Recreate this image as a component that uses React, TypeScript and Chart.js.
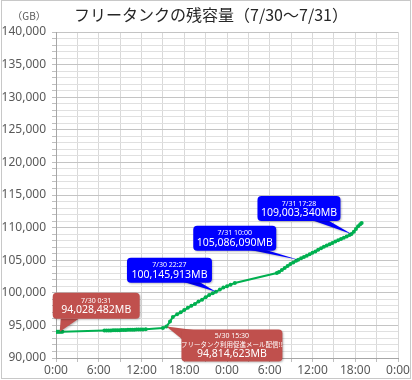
import React, { useEffect, useRef } from "react";
import { Chart, registerables } from "chart.js";

Chart.register(...registerables);

// elapsed hours from 7/30 0:00
const hours = [
  0.0, 0.17, 0.33, 0.52, 0.7, 0.9,
  6.8, 7.1, 7.4, 7.7, 8.0, 8.3, 8.6, 8.9, 9.2, 9.5, 9.8, 10.1, 10.4, 10.7, 11.0, 11.3, 11.6, 11.9, 12.2, 12.6,
  15.0, 15.5, 16.0, 16.4, 17.0, 17.5, 18.0, 18.5, 19.0, 19.5, 20.0, 20.5, 21.0, 21.5, 22.0, 22.45, 23.0, 23.5, 24.0, 24.5, 25.1,
  31.0, 31.3, 31.7, 32.1, 32.5, 32.9, 33.3, 33.7, 34.0, 34.4, 34.8, 35.2, 35.6, 36.0, 36.4, 36.8, 37.2, 37.6, 38.0, 38.4,
  38.8, 39.2, 39.6, 40.0, 40.4, 40.8, 41.2, 41.47, 41.8, 42.1, 42.4, 42.7, 42.9,
];

// remaining capacity (GB)
const capacityGB = [
  94020, 94025, 94028, 94028, 94035, 94040,
  94200, 94210, 94220, 94230, 94245, 94255, 94265, 94275, 94290, 94300, 94310, 94320, 94330, 94340, 94350, 94360, 94370, 94380, 94390, 94400,
  94600, 94815, 95580, 96300, 96700, 97000, 97350, 97700, 98000, 98300, 98650, 98950, 99300, 99650, 99950, 100146, 100500, 100800, 101000, 101250, 101500,
  103030, 103200, 103500, 103800, 104100, 104400, 104650, 104900, 105086, 105300, 105500, 105700, 105900, 106150, 106350, 106600, 106850, 107050, 107250, 107450,
  107650, 107850, 108050, 108250, 108450, 108650, 108850, 109003, 109350, 109800, 110200, 110500, 110720,
];

const xTickLabels = ["0:00", "6:00", "12:00", "18:00", "0:00", "6:00", "12:00", "18:00", "0:00"];

const chartTitle = "フリータンクの残容量（7/30～7/31）";
const unitLabel = "（GB）";

// callouts
const calloutHours = [0.52, 15.5, 22.45, 34.0, 41.47];
const calloutValues = [94028, 94815, 100146, 105086, 109003];
const calloutLines = [
  ["7/30 0:31", "94,028,482MB"],
  ["5/30 15:30", "フリータンク利用促進メール配信!!", "94,814,623MB"],
  ["7/30 22:27", "100,145,913MB"],
  ["7/31 10:00", "105,086,090MB"],
  ["7/31 17:28", "109,003,340MB"],
];

// callout box geometry relative to the tip (style only)
const calloutStyle = [
  { dx: -7, dy: -39, w: 87, h: 26, color: "#C0504D", base: [[8, 26], [26, 26]], lineY: [8, 17], sizes: [7, 10.5] },
  { dx: 15, dy: 3, w: 101, h: 32, color: "#C0504D", base: [[1, 10], [16, 1]], lineY: [6.5, 14.5, 24.5], sizes: [7, 6.5, 10.5] },
  { dx: -89, dy: -34, w: 85, h: 25, color: "#0000FF", base: [[56, 24], [72, 24]], lineY: [7.5, 17], sizes: [7, 10.5] },
  { dx: -105, dy: -34, w: 83, h: 25, color: "#0000FF", base: [[56, 24], [72, 24]], lineY: [7.5, 17], sizes: [7, 10.5] },
  { dx: -94, dy: -38, w: 83, h: 25, color: "#0000FF", base: [[54, 24], [70, 24]], lineY: [7.5, 17], sizes: [7, 10.5] },
];

const NUM_FONT = "'Noto Sans', 'Noto Sans CJK JP', sans-serif";
const JP_FONT = "'Noto Sans CJK JP', 'Noto Sans', sans-serif";

function roundRect(ctx: CanvasRenderingContext2D, x: number, y: number, w: number, h: number, r: number) {
  ctx.beginPath();
  ctx.moveTo(x + r, y);
  ctx.lineTo(x + w - r, y);
  ctx.quadraticCurveTo(x + w, y, x + w, y + r);
  ctx.lineTo(x + w, y + h - r);
  ctx.quadraticCurveTo(x + w, y + h, x + w - r, y + h);
  ctx.lineTo(x + r, y + h);
  ctx.quadraticCurveTo(x, y + h, x, y + h - r);
  ctx.lineTo(x, y + r);
  ctx.quadraticCurveTo(x, y, x + r, y);
  ctx.closePath();
}

const decorPlugin = {
  id: "decor",
  beforeDraw(chart: any) {
    const ctx = chart.ctx as CanvasRenderingContext2D;
    ctx.save();
    ctx.fillStyle = "#ffffff";
    ctx.fillRect(0, 0, chart.width, chart.height);
    ctx.strokeStyle = "#c8c8c8";
    ctx.lineWidth = 1;
    ctx.strokeRect(1.5, 0.5, chart.width - 3, chart.height - 2);
    ctx.fillStyle = "#262626";
    ctx.font = `16px ${JP_FONT}`;
    ctx.textAlign = "center";
    ctx.textBaseline = "middle";
    ctx.fillText(chartTitle, 211, 15);
    ctx.fillStyle = "#595959";
    ctx.font = `10px ${JP_FONT}`;
    ctx.fillText(unitLabel, 29, 16);
    ctx.restore();
  },
  afterDatasetsDraw(chart: any) {
    const ctx = chart.ctx as CanvasRenderingContext2D;
    const xs = chart.scales.x;
    const ys = chart.scales.y;
    ctx.save();
    calloutHours.forEach((h, i) => {
      const st = calloutStyle[i];
      const tx = xs.getPixelForValue(h);
      const ty = ys.getPixelForValue(calloutValues[i]);
      const bx = tx + st.dx;
      const by = ty + st.dy;
      ctx.shadowColor = "rgba(0,0,0,0.25)";
      ctx.shadowBlur = 2;
      ctx.shadowOffsetX = 1;
      ctx.shadowOffsetY = 1;
      ctx.fillStyle = st.color;
      ctx.beginPath();
      ctx.moveTo(tx, ty);
      ctx.lineTo(bx + st.base[0][0], by + st.base[0][1]);
      ctx.lineTo(bx + st.base[1][0], by + st.base[1][1]);
      ctx.closePath();
      ctx.fill();
      roundRect(ctx, bx, by, st.w, st.h, 4);
      ctx.fill();
      ctx.shadowColor = "transparent";
      ctx.fillStyle = "#ffffff";
      ctx.textAlign = "center";
      ctx.textBaseline = "middle";
      calloutLines[i].forEach((line, j) => {
        const isJp = /[^\x00-\x7F]/.test(line);
        ctx.font = `${st.sizes[j]}px ${isJp ? JP_FONT : NUM_FONT}`;
        ctx.fillText(line, bx + st.w / 2, by + st.lineY[j]);
      });
    });
    ctx.restore();
  },
};

export default function App() {
  const canvasRef = useRef<HTMLCanvasElement | null>(null);

  useEffect(() => {
    document.body.style.margin = "0";
    const canvas = canvasRef.current;
    if (!canvas) return;
    const data = hours.map((h, i) => ({ x: h, y: capacityGB[i] }));
    const chart = new Chart(canvas, {
      type: "line",
      data: {
        datasets: [
          {
            data,
            borderColor: "#00B050",
            backgroundColor: "#00B050",
            borderWidth: 2,
            pointRadius: 2,
            pointBorderWidth: 0,
            pointBackgroundColor: "#00B050",
            tension: 0,
          },
        ],
      },
      options: {
        responsive: false,
        animation: false,
        events: [],
        layout: { padding: { top: 32, right: 14, left: 0, bottom: 0 } },
        plugins: {
          legend: { display: false },
          tooltip: { enabled: false },
          title: { display: false },
        },
        scales: {
          x: {
            type: "linear",
            min: 0,
            max: 48,
            afterFit: (s: any) => {
              s.height = 22;
            },
            ticks: {
              stepSize: 3,
              autoSkip: false,
              maxRotation: 0,
              maxTicksLimit: 40,
              padding: 1,
              color: "#595959",
              font: { family: NUM_FONT, size: 12 },
              callback: (v: any) => (Number(v) % 6 === 0 ? xTickLabels[Number(v) / 6] : ""),
            },
            grid: {
              color: "#d9d9d9",
              lineWidth: 1,
              tickLength: 4,
              tickColor: "#bfbfbf",
            },
            border: { color: "#a6a6a6" },
          },
          y: {
            type: "linear",
            min: 90000,
            max: 140000,
            afterFit: (s: any) => {
              s.width = 56;
            },
            ticks: {
              stepSize: 1000,
              autoSkip: false,
              maxTicksLimit: 100,
              padding: 6,
              color: "#595959",
              font: { family: NUM_FONT, size: 12 },
              callback: (v: any) => (Number(v) % 5000 === 0 ? Number(v).toLocaleString("en-US") : ""),
            },
            grid: {
              color: (c: any) => (c.tick && c.tick.value % 5000 === 0 ? "#c4c4c4" : "#e0e0e0"),
              lineWidth: 1,
              tickLength: 4,
              tickColor: "#bfbfbf",
            },
            border: { color: "#a6a6a6" },
          },
        },
      },
      plugins: [decorPlugin],
    });
    return () => chart.destroy();
  }, []);

  return <canvas ref={canvasRef} width={412} height={380} style={{ display: "block" }} />;
}
